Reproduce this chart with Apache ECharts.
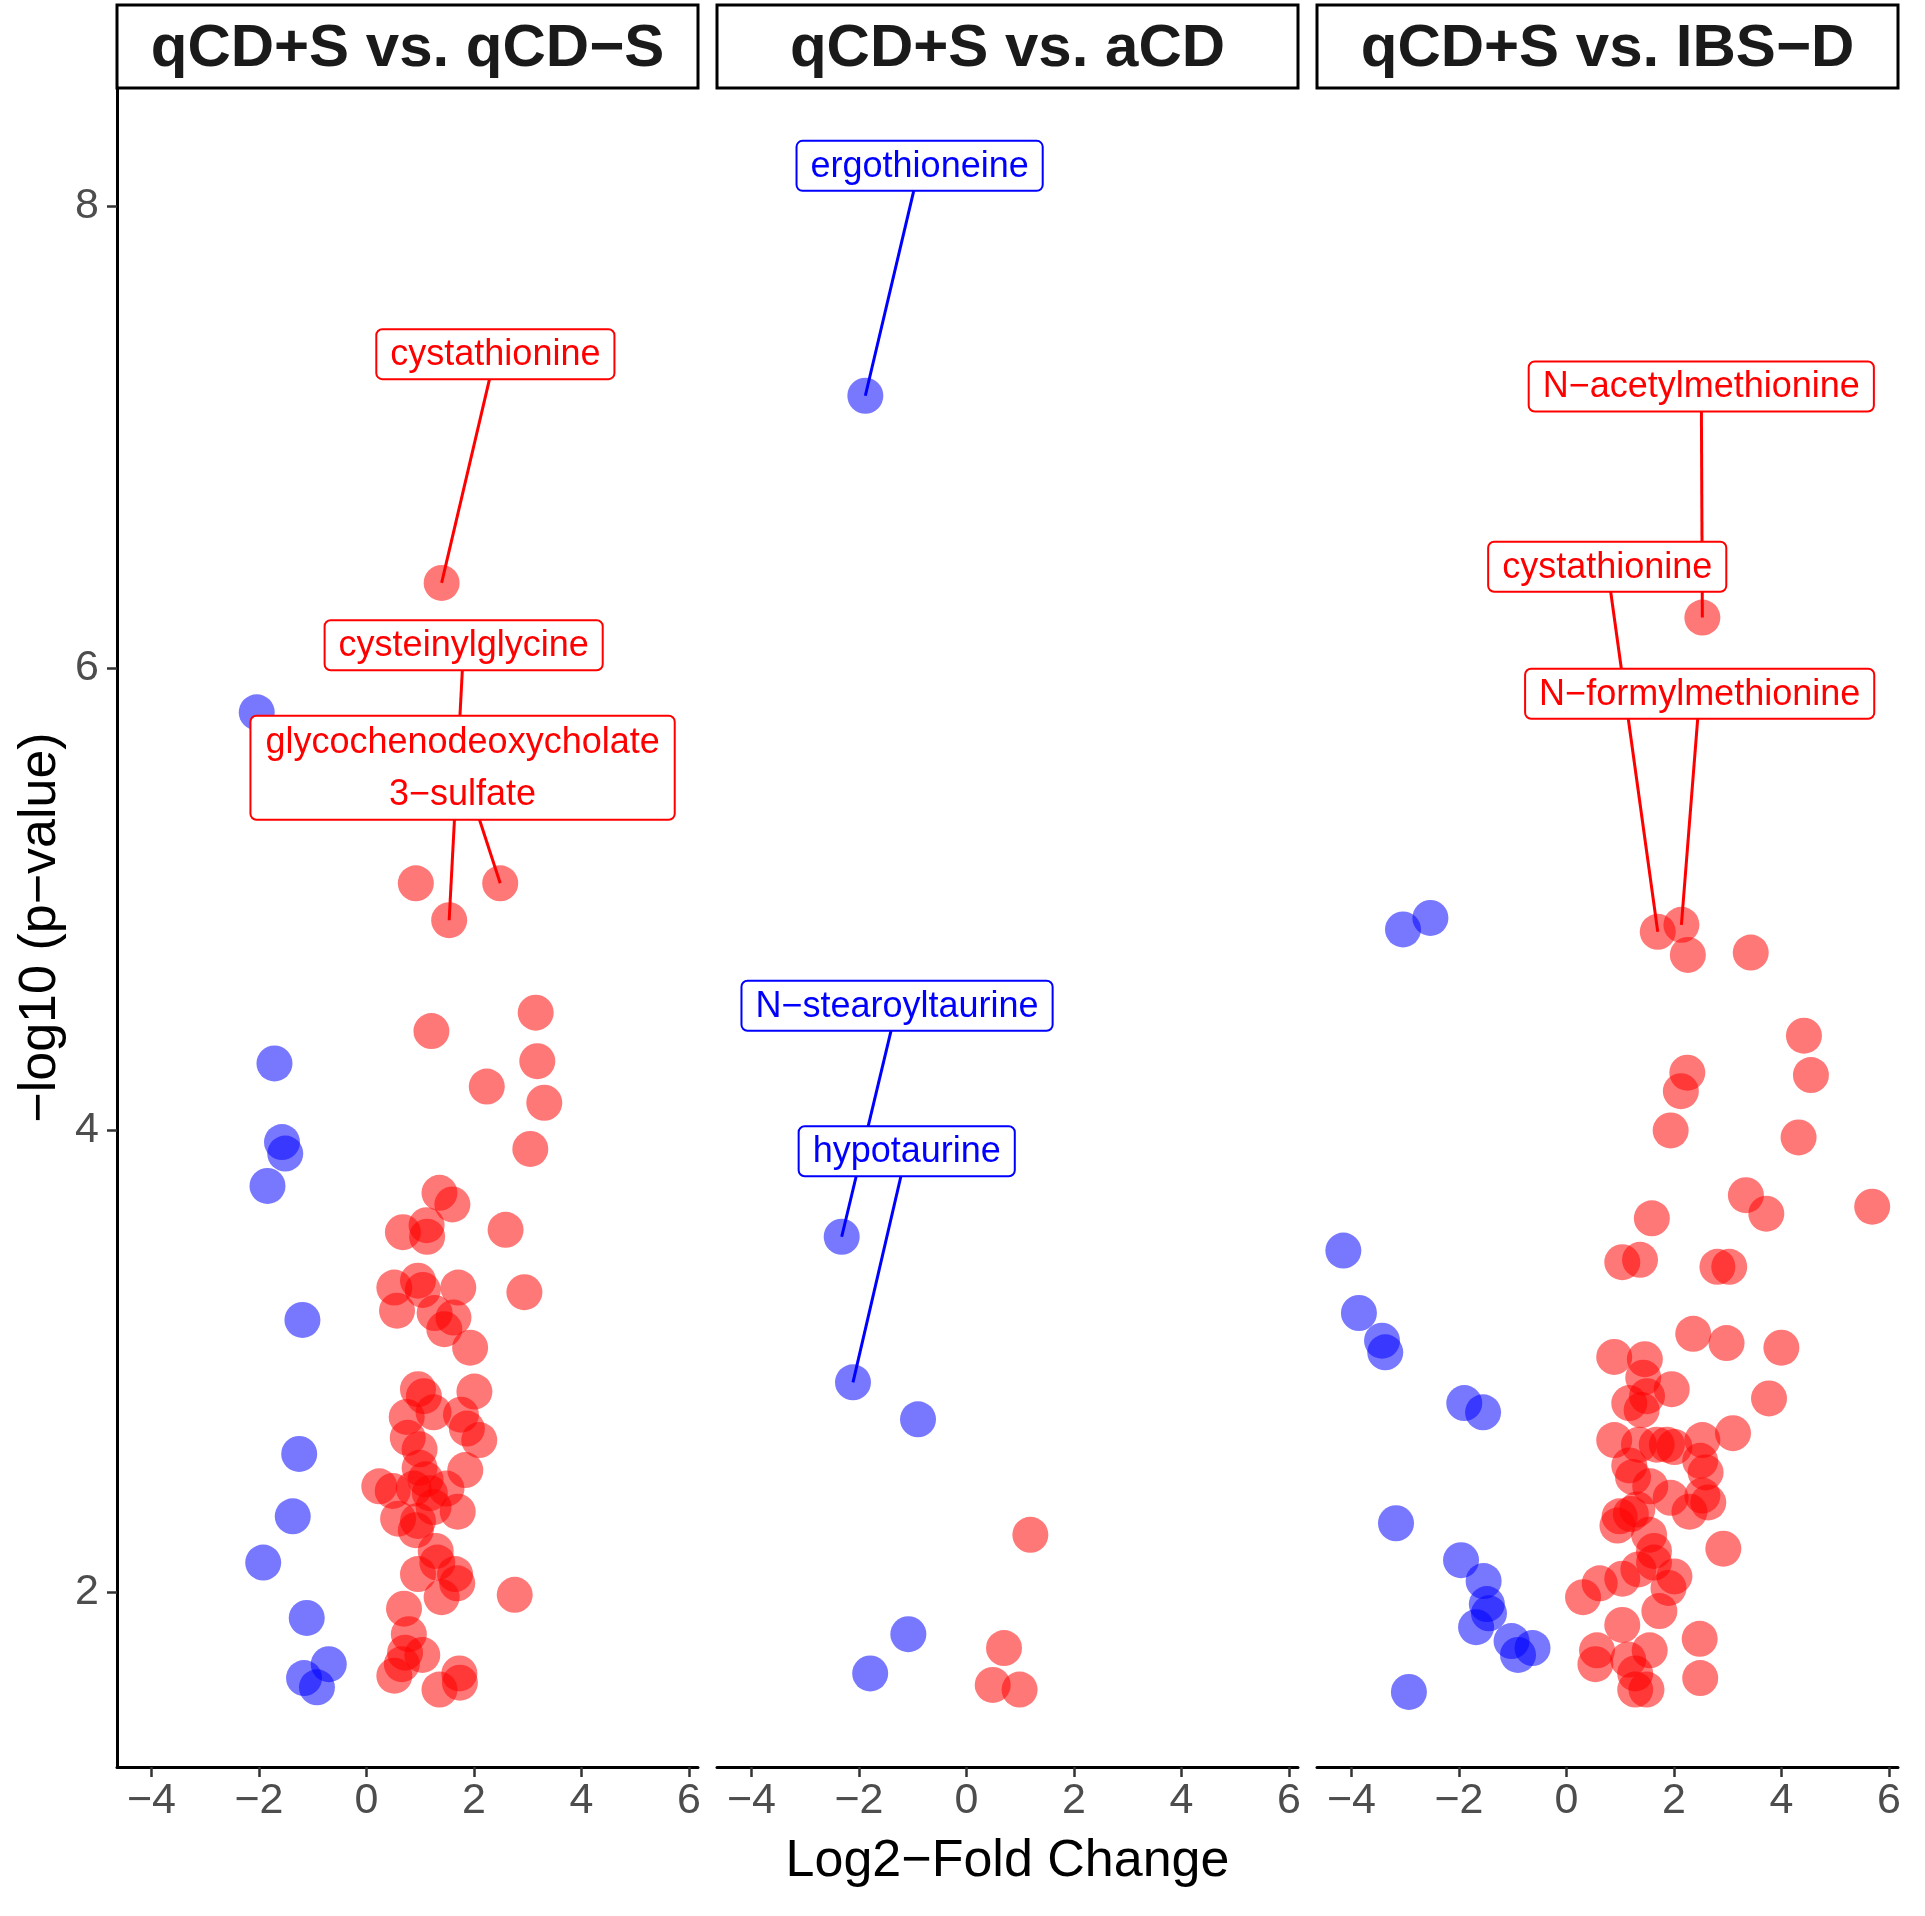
<!DOCTYPE html>
<html><head><meta charset="utf-8">
<script src="https://cdn.jsdelivr.net/npm/echarts@6/dist/echarts.min.js"></script>
<style>html,body{margin:0;padding:0;background:#fff}#c{width:1925px;height:1916px}</style>
</head><body><div id="c"></div>
<script>
const panelTitles = ['qCD+S vs. qCD\u2212S', 'qCD+S vs. aCD', 'qCD+S vs. IBS\u2212D'];
const xTicks = [-4, -2, 0, 2, 4, 6];
const yTicks = [2, 4, 6, 8];
const xTitle = 'Log2\u2212Fold Change';
const yTitle = '\u2212log10 (p\u2212value)';

// Panel 1: qCD+S vs. qCD-S
const p1Up = [[1.40,6.37],[0.92,5.07],[2.49,5.07],[1.54,4.91],[1.21,4.43],[3.15,4.51],[3.18,4.30],[2.24,4.19],[3.31,4.12],[3.05,3.92],[1.36,3.73],[1.60,3.68],[0.68,3.56],[1.12,3.59],[1.13,3.54],[2.59,3.57],[0.52,3.32],[0.96,3.35],[1.05,3.31],[1.71,3.32],[2.94,3.30],[0.57,3.22],[1.27,3.21],[1.62,3.19],[1.45,3.14],[1.93,3.06],[0.96,2.88],[1.07,2.85],[2.01,2.87],[0.75,2.76],[1.25,2.78],[1.76,2.77],[1.87,2.71],[0.77,2.67],[2.10,2.66],[0.99,2.62],[1.84,2.53],[0.99,2.54],[0.24,2.46],[0.49,2.44],[0.88,2.45],[1.10,2.49],[1.18,2.43],[1.49,2.45],[1.25,2.37],[1.70,2.35],[0.59,2.32],[0.96,2.31],[0.92,2.27],[1.29,2.18],[1.32,2.13],[0.96,2.08],[1.65,2.08],[1.69,2.04],[1.40,1.98],[2.76,1.99],[0.70,1.93],[0.79,1.82],[0.72,1.74],[1.04,1.73],[0.66,1.69],[0.52,1.64],[1.73,1.65],[1.74,1.61],[1.36,1.58]];
const p1Down = [[-2.04,5.81],[-1.71,4.29],[-1.57,3.95],[-1.51,3.90],[-1.84,3.76],[-1.19,3.18],[-1.25,2.60],[-1.37,2.33],[-1.92,2.13],[-1.11,1.89],[-0.70,1.69],[-1.16,1.63],[-0.92,1.59]];
const p1LabelNames = ['cystathionine', 'cysteinylglycine', 'glycochenodeoxycholate\n3\u2212sulfate'];
const p1LabelPos = [[2.40,7.36],[1.81,6.10],[1.79,5.57]];
const p1LabelTarget = [[1.40,6.37],[1.54,4.91],[2.49,5.07]];
const p1LabelSide = ['up','up','up'];

// Panel 2: qCD+S vs. aCD
const p2Up = [[1.19,2.25],[0.70,1.76],[0.49,1.60],[0.99,1.58]];
const p2Down = [[-1.88,7.18],[-2.32,3.54],[-2.11,2.91],[-0.90,2.75],[-1.08,1.82],[-1.79,1.65]];
const p2LabelNames = ['ergothioneine', 'N\u2212stearoyltaurine', 'hypotaurine'];
const p2LabelPos = [[-0.87,8.175],[-1.29,4.54],[-1.11,3.91]];
const p2LabelTarget = [[-1.88,7.18],[-2.32,3.54],[-2.11,2.91]];
const p2LabelSide = ['down','down','down'];

// Panel 3: qCD+S vs. IBS-D
const p3Up = [[2.53,6.22],[1.70,4.86],[2.14,4.89],[2.26,4.76],[3.43,4.77],[4.42,4.41],[4.55,4.24],[2.25,4.25],[2.13,4.17],[1.94,4.00],[4.32,3.97],[3.34,3.72],[3.72,3.64],[5.69,3.67],[1.59,3.62],[1.04,3.43],[1.37,3.44],[2.81,3.41],[3.03,3.41],[2.36,3.12],[2.98,3.08],[4.00,3.06],[0.89,3.02],[1.46,3.01],[1.43,2.93],[1.96,2.88],[3.77,2.84],[1.17,2.82],[1.50,2.85],[1.40,2.79],[0.89,2.66],[1.35,2.64],[1.68,2.64],[1.87,2.64],[2.01,2.63],[2.53,2.66],[3.10,2.69],[1.17,2.55],[2.49,2.57],[2.59,2.52],[1.24,2.50],[1.56,2.46],[1.94,2.41],[2.53,2.42],[2.64,2.39],[2.29,2.35],[0.99,2.33],[1.20,2.34],[1.32,2.36],[0.95,2.29],[1.54,2.25],[2.92,2.19],[1.63,2.18],[1.63,2.13],[1.34,2.10],[2.01,2.07],[0.62,2.04],[1.04,2.06],[1.90,2.02],[0.31,1.98],[1.73,1.92],[1.04,1.86],[2.48,1.80],[0.57,1.75],[1.55,1.75],[0.54,1.69],[1.15,1.71],[1.28,1.65],[1.49,1.58],[1.28,1.58],[2.49,1.63]];
const p3Down = [[-3.04,4.87],[-2.53,4.92],[-4.15,3.48],[-3.86,3.21],[-3.43,3.09],[-3.37,3.04],[-1.90,2.82],[-1.55,2.78],[-3.17,2.30],[-1.96,2.14],[-1.54,2.05],[-1.48,1.95],[-1.44,1.91],[-1.68,1.85],[-1.02,1.79],[-0.63,1.76],[-0.90,1.73],[-2.93,1.57]];
const p3LabelNames = ['N\u2212acetylmethionine', 'cystathionine', 'N\u2212formylmethionine'];
const p3LabelPos = [[2.51,7.22],[0.76,6.44],[2.48,5.89]];
const p3LabelTarget = [[2.53,6.22],[1.70,4.86],[2.14,4.89]];
const p3LabelSide = ['up','up','up'];

const panels = [
  {up:p1Up, down:p1Down, names:p1LabelNames, pos:p1LabelPos, target:p1LabelTarget, side:p1LabelSide},
  {up:p2Up, down:p2Down, names:p2LabelNames, pos:p2LabelPos, target:p2LabelTarget, side:p2LabelSide},
  {up:p3Up, down:p3Down, names:p3LabelNames, pos:p3LabelPos, target:p3LabelTarget, side:p3LabelSide}
];

const FONT = '"Liberation Sans", Arial, Helvetica, sans-serif';
const LABEL_FONT = '36px "Liberation Sans", Arial, sans-serif';
const RED = '#ff0000', BLUE = '#0000ff';
const gridLefts = [117, 717, 1317];
const GRID_TOP = 88, GRID_W = 581, GRID_H = 1679;
const minus = v => String(v).replace('-', '\u2212');

const measureCtx = document.createElement('canvas').getContext('2d');
measureCtx.font = LABEL_FONT;
function textWidth(s) { return Math.max.apply(null, s.split('\n').map(l => measureCtx.measureText(l).width)); }

function labelRenderer(p) {
  return function (params, api) {
    const k = params.dataIndex;
    const name = p.names[k];
    const col = p.side[k] === 'up' ? RED : BLUE;
    const c = api.coord([api.value(0), api.value(1)]);
    const t = api.coord([api.value(2), api.value(3)]);
    const lines = name.split('\n').length;
    const lh = lines > 1 ? 52 : 44;
    const padY = lines > 1 ? 0 : 3;
    const padX = lines > 1 ? 15 : 14;
    const w = textWidth(name) + 2 * padX;
    const h = lines * lh + 2 * padY;
    return {type: 'group', children: [
      {type: 'line', z2: 0, shape: {x1: c[0], y1: c[1], x2: t[0], y2: t[1]}, style: {stroke: col, lineWidth: 3}},
      {type: 'rect', z2: 10, shape: {x: c[0] - w / 2, y: c[1] - h / 2, width: w, height: h, r: 6},
        style: {fill: '#fff', stroke: col, lineWidth: 2}},
      {type: 'text', z2: 20, x: c[0], y: c[1] + 1, style: {text: name, fill: col, font: LABEL_FONT,
        align: 'center', verticalAlign: 'middle', lineHeight: lh}}
    ]};
  };
}

const grids = [], xAxes = [], yAxes = [], series = [], graphics = [];
panels.forEach((p, i) => {
  grids.push({left: gridLefts[i], top: GRID_TOP, width: GRID_W, height: GRID_H});
  xAxes.push({
    type: 'value', gridIndex: i, min: -4.64, max: 6.17,
    name: i === 1 ? xTitle : '', nameLocation: 'middle', nameGap: 69,
    nameTextStyle: {fontSize: 52, color: '#000', fontFamily: FONT},
    axisLine: {show: true, onZero: false, lineStyle: {color: '#000', width: 3}},
    axisTick: {show: true, customValues: xTicks, length: 10, lineStyle: {color: '#333', width: 2.5}},
    axisLabel: {show: true, customValues: xTicks, formatter: minus, color: '#4d4d4d', fontSize: 43, margin: 13, fontFamily: FONT},
    splitLine: {show: false}
  });
  yAxes.push({
    type: 'value', gridIndex: i, min: 1.245, max: 8.512, show: i === 0,
    name: i === 0 ? yTitle : '', nameLocation: 'middle', nameGap: 50, nameRotate: 90,
    nameTextStyle: {fontSize: 52, color: '#000', fontFamily: FONT},
    axisLine: {show: i === 0, onZero: false, lineStyle: {color: '#000', width: 3}},
    axisTick: {show: i === 0, customValues: yTicks, length: 10, lineStyle: {color: '#333', width: 2.5}},
    axisLabel: {show: i === 0, customValues: yTicks, color: '#4d4d4d', fontSize: 43, margin: 18, fontFamily: FONT},
    splitLine: {show: false}
  });
  series.push({type: 'scatter', xAxisIndex: i, yAxisIndex: i, data: p.up, symbolSize: 36, silent: true, z: 2,
    itemStyle: {color: RED, opacity: 0.53}});
  series.push({type: 'scatter', xAxisIndex: i, yAxisIndex: i, data: p.down, symbolSize: 36, silent: true, z: 2,
    itemStyle: {color: BLUE, opacity: 0.53}});
  series.push({type: 'custom', xAxisIndex: i, yAxisIndex: i, silent: true, z: 5, clip: false,
    encode: {x: [0, 2], y: [1, 3]},
    data: p.names.map((n, k) => [p.pos[k][0], p.pos[k][1], p.target[k][0], p.target[k][1]]),
    renderItem: labelRenderer(p)});
  graphics.push({type: 'rect', shape: {x: gridLefts[i], y: 5, width: GRID_W, height: 83},
    style: {fill: '#fff', stroke: '#000', lineWidth: 3}, silent: true});
  graphics.push({type: 'text', x: gridLefts[i] + GRID_W / 2, y: 49,
    style: {text: panelTitles[i], fill: '#1a1a1a', fontSize: 60, fontWeight: 'bold', fontFamily: FONT,
      align: 'center', verticalAlign: 'middle'}, silent: true});
});

const chart = echarts.init(document.getElementById('c'), null, {renderer: 'canvas'});
chart.setOption({
  animation: false,
  backgroundColor: '#fff',
  grid: grids, xAxis: xAxes, yAxis: yAxes, series: series, graphic: graphics
});
</script></body></html>
